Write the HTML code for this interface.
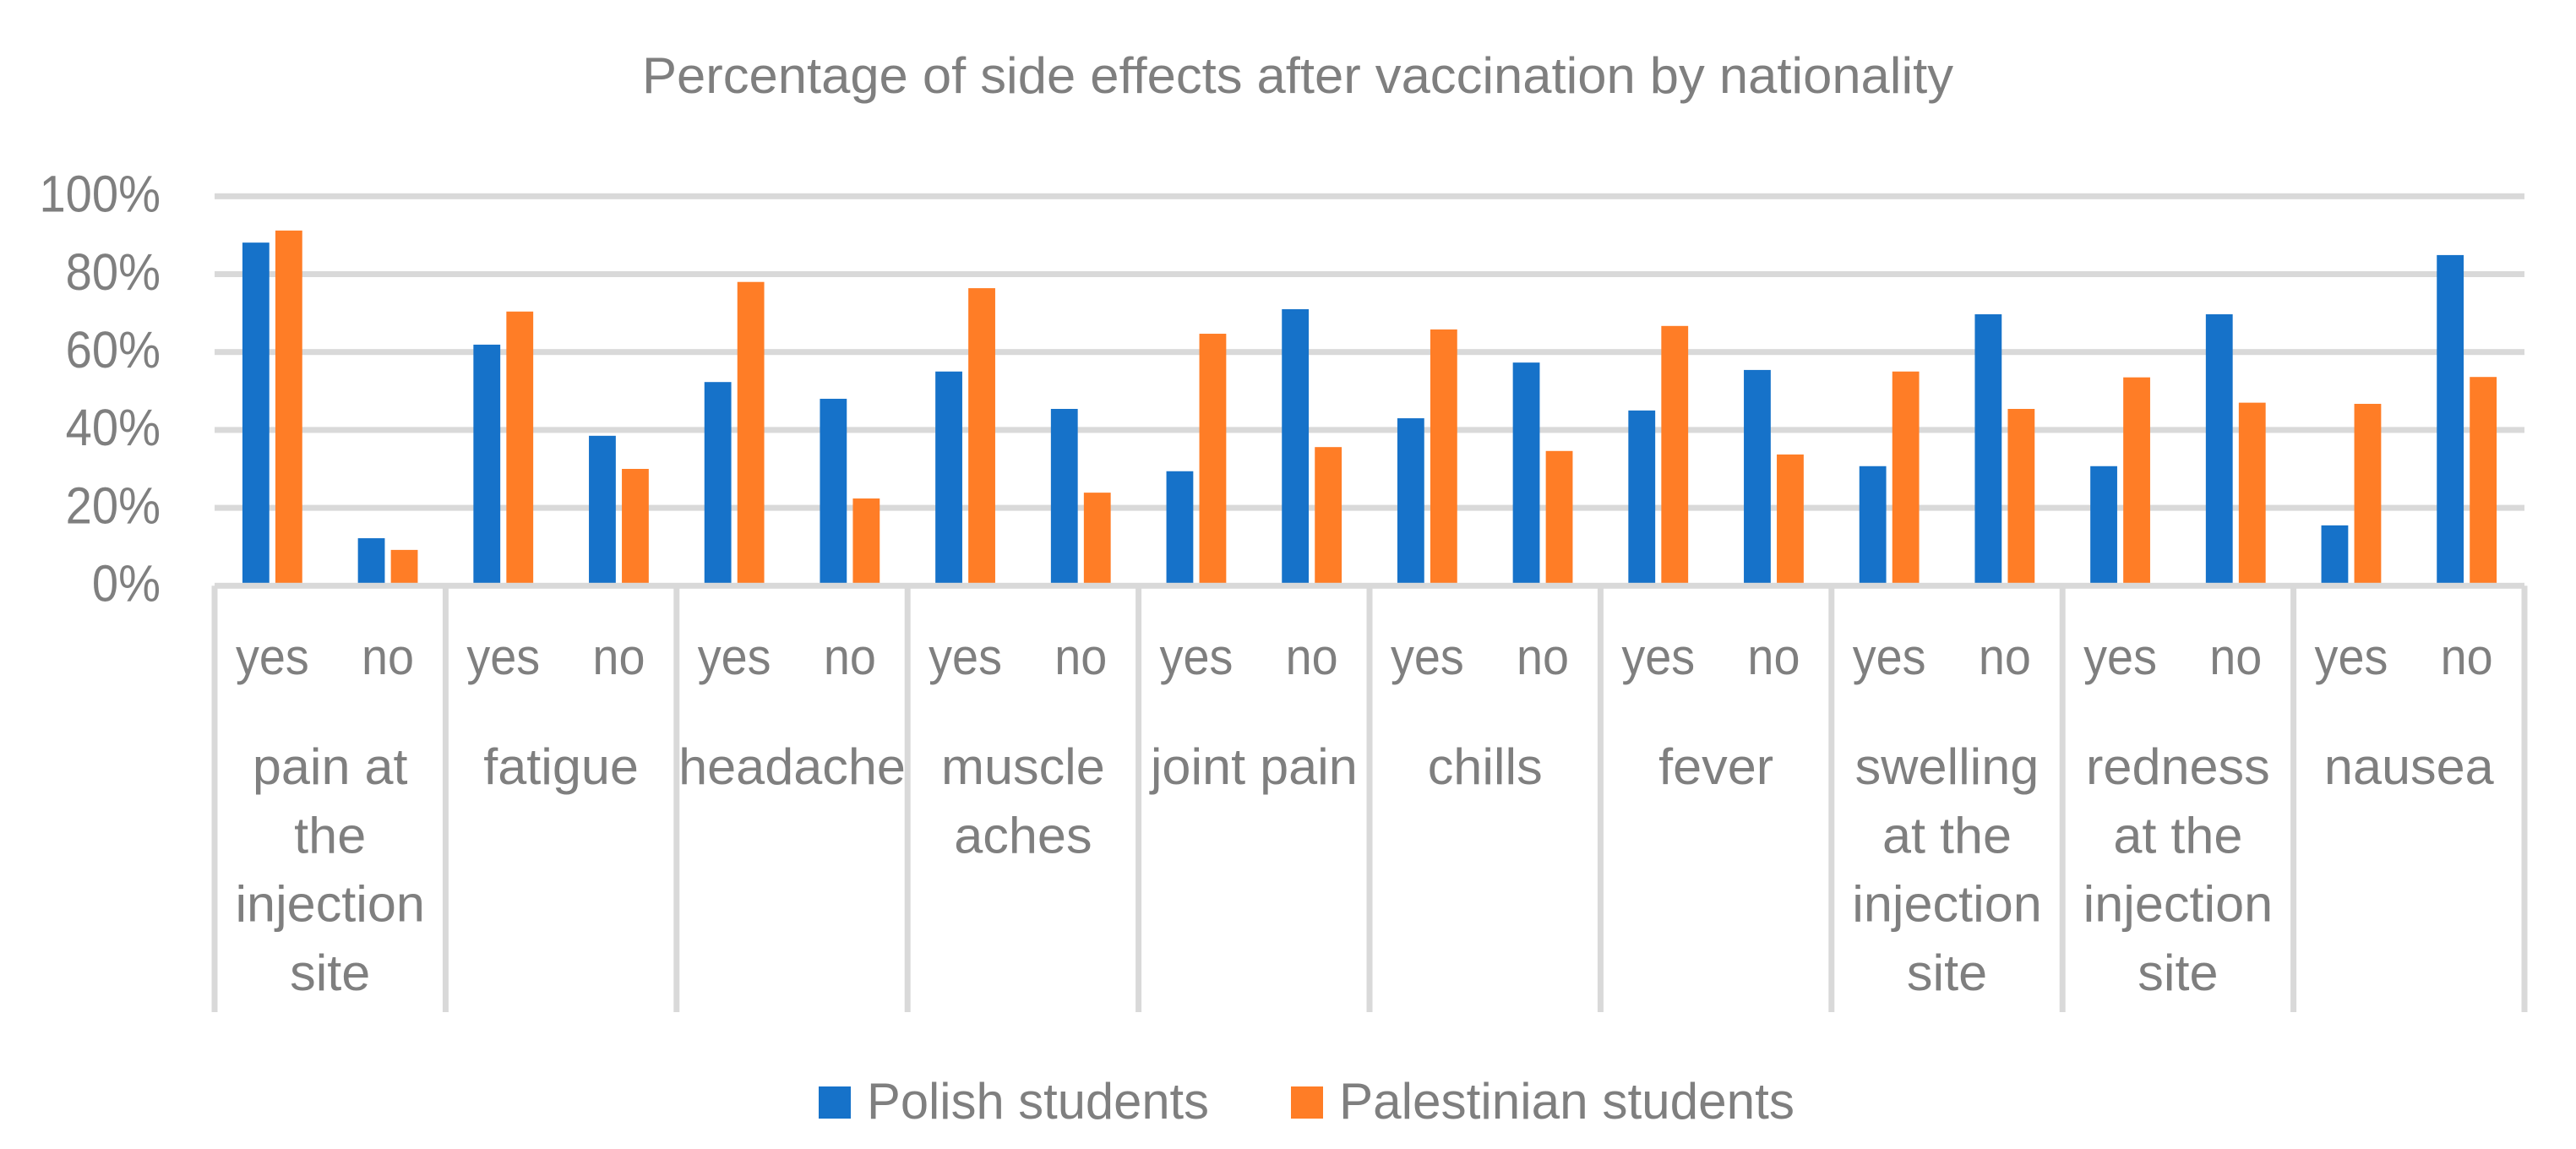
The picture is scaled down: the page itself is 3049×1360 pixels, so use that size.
<!DOCTYPE html>
<html lang="en">
<head>
<meta charset="utf-8">
<title>Percentage of side effects after vaccination by nationality</title>
<style>
  html, body { margin: 0; padding: 0; background: #ffffff; }
  svg { display: block; }
  text { font-family: "Liberation Sans", sans-serif; fill: #7f7f7f; }
</style>
</head>
<body>
<svg id="chart" xmlns="http://www.w3.org/2000/svg" width="3049" height="1360" viewBox="0 0 3049 1360">
  <rect x="0" y="0" width="3049" height="1360" fill="#ffffff"></rect>
  <text id="chart-title" x="760" y="110" font-size="60" textLength="1552" lengthAdjust="spacingAndGlyphs">Percentage of side effects after vaccination by nationality</text>
  <g id="grid"></g>
  <g id="y-labels"></g>
  <g id="bars"></g>
  <g id="x-axis"></g>
  <g id="x-labels"></g>
  <g>
    <g>
      <rect x="969" y="1286" width="38" height="38" fill="#1672c9"></rect>
      <text x="1026" y="1324" font-size="60" textLength="405" lengthAdjust="spacingAndGlyphs">Polish students</text>
    </g>
    <g>
      <rect x="1528" y="1286" width="38" height="38" fill="#ff7d26"></rect>
      <text x="1585" y="1324" font-size="60" textLength="539" lengthAdjust="spacingAndGlyphs">Palestinian students</text>
    </g>
  </g>
</svg>
<script>
const groupLabels = [
  ["pain at", "the", "injection", "site"],
  ["fatigue"],
  ["headache"],
  ["muscle", "aches"],
  ["joint pain"],
  ["chills"],
  ["fever"],
  ["swelling", "at the", "injection", "site"],
  ["redness", "at the", "injection", "site"],
  ["nausea"]
];
const answerLabels = ["yes", "no"];
const yTicks = [0, 20, 40, 60, 80, 100];
const polishValues = [88.1, 12.2, 61.9, 38.5, 52.3, 48.0, 55.0, 45.4, 29.4, 71.0, 43.0, 57.3, 45.0, 55.4, 30.7, 69.7, 30.7, 69.7, 15.5, 84.9];
const palestinianValues = [91.2, 9.2, 70.4, 30.0, 78.0, 22.4, 76.4, 23.9, 64.7, 35.6, 65.8, 34.6, 66.7, 33.7, 55.0, 45.4, 53.5, 47.0, 46.7, 53.6];

const NS = "http://www.w3.org/2000/svg";
const plotLeft = 254, plotRight = 2988, plotBottom = 693.3, pxPerPercent = 4.61;
const stepCount = groupLabels.length * answerLabels.length;
const step = (plotRight - plotLeft) / stepCount;
const barWidth = 31.8, barGap = 7.2;

function xScale(i) { return plotLeft + i * step; }
function yScale(v) { return plotBottom - v * pxPerPercent; }

function make(tag, parent, attrs, content) {
  const el = document.createElementNS(NS, tag);
  for (const k in attrs) el.setAttribute(k, attrs[k]);
  if (content !== undefined) el.textContent = content;
  parent.appendChild(el);
  return el;
}

const grid = document.getElementById("grid");
const yLabels = document.getElementById("y-labels");
yTicks.forEach(function (t) {
  if (t !== 0) {
    const line = make("rect", grid, { x: plotLeft, y: yScale(t) - 3.5, width: plotRight - plotLeft, height: 7, fill: "#d9d9d9" });
    
    
  }
  const label = make("text", yLabels, {
    transform: "translate(190," + (yScale(t) + 18.3) + ") scale(0.92,1)",
    "text-anchor": "end", "font-size": 61
  }, t + "%");
  
  
});

const bars = document.getElementById("bars");
const edge = (step - 2 * barWidth - barGap) / 2;
polishValues.forEach(function (v, i) {
  const bar = make("rect", bars, {
    x: xScale(i) + edge, y: yScale(v), width: barWidth, height: plotBottom - yScale(v), fill: "#1672c9"
  });
  
  
});
palestinianValues.forEach(function (v, i) {
  const bar = make("rect", bars, {
    x: xScale(i) + edge + barWidth + barGap, y: yScale(v), width: barWidth, height: plotBottom - yScale(v), fill: "#ff7d26"
  });
  
  
});

const xAxis = document.getElementById("x-axis");
const axisLine = make("rect", xAxis, { x: plotLeft, y: plotBottom - 3.5, width: plotRight - plotLeft, height: 7, fill: "#d9d9d9" });


for (let g = 0; g <= groupLabels.length; g++) {
  const sep = make("rect", xAxis, {
    x: xScale(g * answerLabels.length) - 3.5, y: plotBottom, width: 7, height: 1198 - plotBottom, fill: "#d9d9d9"
  });
  
  
}

const xLabels = document.getElementById("x-labels");
for (let i = 0; i < stepCount; i++) {
  const answer = make("text", xLabels, {
    transform: "translate(" + (xScale(i) + step / 2) + ",798) scale(0.93,1)",
    "text-anchor": "middle", "font-size": 60
  }, answerLabels[i % answerLabels.length]);
  
  
}
groupLabels.forEach(function (lines, g) {
  const cx = xScale((g + 0.5) * answerLabels.length);
  lines.forEach(function (line, n) {
    const label = make("text", xLabels, {
      transform: "translate(" + cx + "," + (928 + n * 81.3) + ") scale(1.02,1)",
      "text-anchor": "middle", "font-size": 60
    }, line);
    
    
  });
});
</script>
</body>
</html>
